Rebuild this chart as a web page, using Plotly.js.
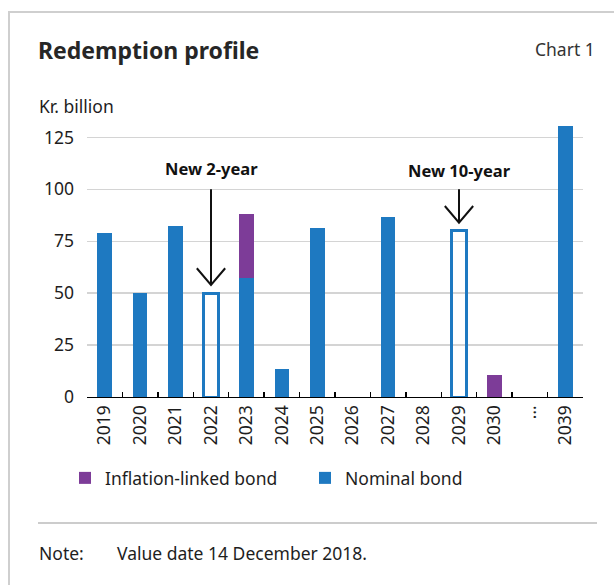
<!DOCTYPE html>
<html>
<head>
<meta charset="utf-8">
<script src="https://cdn.plot.ly/plotly-3.0.1.min.js"></script>
<style>
  html, body { margin: 0; padding: 0; background: #fff; }
  #wrap { position: relative; width: 614px; height: 585px; overflow: hidden; }
  #chart { position: absolute; left: 0; top: 0; width: 614px; height: 585px; }
  #frame { position: absolute; left: 8px; top: 11px; right: -4px; bottom: -4px;
           border-top: 2px solid #cfcfcf; border-left: 2px solid #cfcfcf; pointer-events: none; }
</style>
</head>
<body>
<div id="wrap">
  <div id="chart"></div>
  <div id="frame"></div>
</div>
<script>
// ---- data ----
const years = ['2019','2020','2021','2022','2023','2024','2025','2026','2027','2028','2029','2030','…','2039'];
const nominal = [79, 50, 82.5, null, 57.5, 13.5, 81.5, null, 86.5, null, null, null, null, 130.5];
const inflationLinked = [null, null, null, null, 30.8, null, null, null, null, null, null, 10.4, null, null];
const newIssue = [null, null, null, 50, null, null, null, null, null, null, 80, null, null, null];
const newLabels = ['New 2-year', 'New 10-year'];
const newYears = ['2022', '2029'];
const labelY = [110, 109];
const yTicks = [0, 25, 50, 75, 100, 125];

// ---- styling ----
const BLUE = '#1e79c1';
const PURPLE = '#7d3c98';
const TXT = '#1e1e1e';
const FONT = 'Noto Sans, Open Sans, sans-serif';
const FS = 17.5;

// plot area in pixels
const L = 87, R = 31, T = 125, B = 188, W = 614, H = 585;
const pw = W - L - R, ph = H - T - B;
const px = x => (x - L) / pw;
const py = y => (H - B - y) / ph;

const traces = [
  { type: 'bar', name: 'Nominal bond', x: years, y: nominal,
    marker: { color: BLUE, line: { width: 0 } }, legendrank: 2, hoverinfo: 'x+y' },
  { type: 'bar', name: 'Inflation-linked bond', x: years, y: inflationLinked,
    marker: { color: PURPLE, line: { width: 0 } }, legendrank: 1, hoverinfo: 'x+y' },
  { type: 'bar', name: 'New issue', x: years, y: newIssue, showlegend: false,
    marker: { color: 'rgba(0,0,0,0)', line: { color: BLUE, width: 3 } }, hoverinfo: 'x+y' }
];

const annotations = [
  { xref: 'paper', yref: 'paper', x: px(37), y: py(106), xanchor: 'left', yanchor: 'middle',
    text: 'Kr. billion', showarrow: false, font: { family: FONT, size: FS, color: TXT } },
  { xref: 'paper', yref: 'paper', x: px(597), y: py(49), xanchor: 'right', yanchor: 'middle',
    text: 'Chart 1', showarrow: false, font: { family: FONT, size: FS, color: '#333' } },
  { xref: 'paper', yref: 'paper', x: px(37), y: py(553), xanchor: 'left', yanchor: 'middle',
    text: 'Note:', showarrow: false, font: { family: FONT, size: FS, color: TXT } },
  { xref: 'paper', yref: 'paper', x: px(115), y: py(553), xanchor: 'left', yanchor: 'middle',
    text: 'Value date 14 December 2018.', showarrow: false, font: { family: FONT, size: FS, color: TXT } }
];

const shapes = [
  { type: 'line', xref: 'paper', yref: 'paper', x0: px(38), x1: px(597), y0: py(523), y1: py(523),
    line: { color: '#cccccc', width: 2 } }
];

newYears.forEach((yr, i) => {
  const idx = years.indexOf(yr);
  const tip = newIssue[idx] + 4;
  annotations.push({ xref: 'x', yref: 'y', x: idx, y: labelY[i], xanchor: 'center', yanchor: 'middle',
    text: '<b>' + newLabels[i] + '</b>', showarrow: false, font: { family: FONT, size: 16.5, color: '#111' } });
  shapes.push({ type: 'line', xref: 'x', yref: 'y', x0: idx, x1: idx, y0: 100, y1: tip,
    line: { color: '#111', width: 2 } });
  shapes.push({ type: 'path', xref: 'x', yref: 'y',
    path: 'M ' + (idx - 0.4) + ',' + (tip + 8) + ' L ' + idx + ',' + tip + ' L ' + (idx + 0.4) + ',' + (tip + 8),
    line: { color: '#111', width: 2 } });
});

const layout = {
  width: W, height: H,
  margin: { l: L, r: R, t: T, b: B, pad: 0 },
  paper_bgcolor: '#ffffff', plot_bgcolor: '#ffffff',
  font: { family: FONT, size: FS, color: TXT },
  title: { text: '<b>Redemption profile</b>', xref: 'container', yref: 'container',
    x: 38 / W, xanchor: 'left', y: 1 - 51 / H, yanchor: 'middle',
    font: { family: FONT, size: 23, color: '#262626' } },
  barmode: 'stack',
  bargap: 0.59,
  showlegend: true,
  legend: { orientation: 'h', traceorder: 'normal', x: px(65), xanchor: 'left', y: py(478), yanchor: 'middle',
    font: { family: FONT, size: FS, color: TXT }, entrywidth: 195, entrywidthmode: 'pixels',
    bgcolor: 'rgba(0,0,0,0)', borderwidth: 0, itemclick: false },
  xaxis: { type: 'category', categoryorder: 'array', categoryarray: years,
    showline: true, linecolor: '#000', linewidth: 1.3,
    ticks: 'inside', ticklen: 5, tickwidth: 1.3, tickcolor: '#000', tickson: 'boundaries',
    tickangle: -90, tickfont: { family: FONT, size: FS, color: TXT }, showgrid: false, zeroline: false,
    fixedrange: true },
  yaxis: { range: [0, 131], tickvals: yTicks, ticktext: yTicks.map(String),
    showgrid: true, gridcolor: '#d4d4d4', gridwidth: 1.5, zeroline: false, showline: false,
    ticks: '', ticklabelstandoff: 12, tickfont: { family: FONT, size: FS, color: TXT },
    fixedrange: true },
  annotations: annotations,
  shapes: shapes
};

Plotly.newPlot('chart', traces, layout, { displayModeBar: false, staticPlot: true });
</script>
</body>
</html>
